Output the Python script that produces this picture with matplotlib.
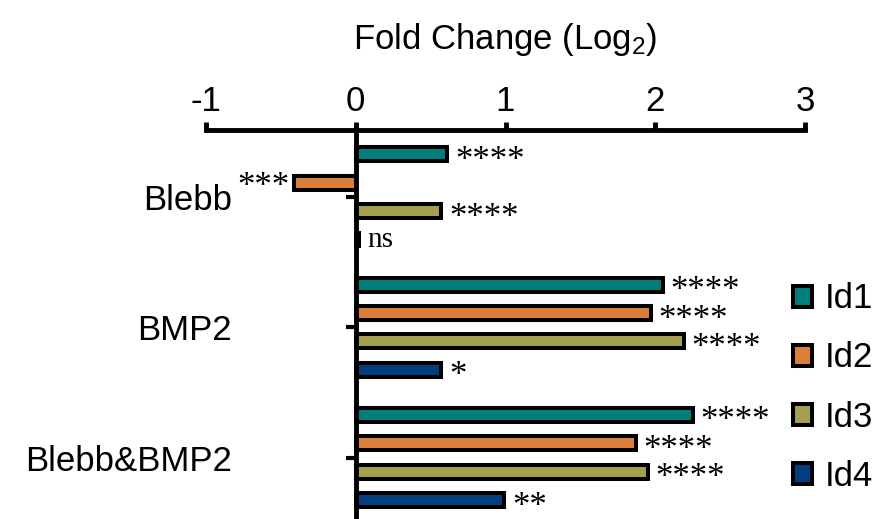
import matplotlib
matplotlib.use("Agg")
import matplotlib.pyplot as plt
from matplotlib.patches import Patch
import numpy as np

plt.rcParams['font.family'] = ['Liberation Sans', 'DejaVu Sans']
plt.rcParams['mathtext.fontset'] = 'custom'
plt.rcParams['mathtext.rm'] = 'Liberation Sans'
plt.rcParams['mathtext.it'] = 'Liberation Sans:italic'

# ---- data ----
groups = ["Blebb", "BMP2", "Blebb&BMP2"]
series = ["Id1", "Id2", "Id3", "Id4"]
id1 = [0.61, 2.05, 2.25]
id2 = [-0.41, 1.97, 1.87]
id3 = [0.57, 2.19, 1.95]
id4 = [0.02, 0.57, 0.99]
sig_id1 = ["****", "****", "****"]
sig_id2 = ["***", "****", "****"]
sig_id3 = ["****", "****", "****"]
sig_id4 = ["ns", "*", "**"]
xticks = [-1, 0, 1, 2, 3]
colors = ["#007F7B", "#DC7F3D", "#A5A04E", "#003F7F"]

values = [id1, id2, id3, id4]
sigs = [sig_id1, sig_id2, sig_id3, sig_id4]

FS = 25
W, H = 882, 519
fig = plt.figure(figsize=(W / 100, H / 100), dpi=100)
ax = fig.add_axes([206 / W, 1 - 588 / H, 599 / W, (588 - 130) / H])

gpos = np.arange(len(groups))
step = 0.218
bar_h = 0.107
for j, (vals, col, sg) in enumerate(zip(values, colors, sigs)):
    ypos = gpos + (j - 1.5) * step
    ax.barh(ypos, vals, height=bar_h, color=col, edgecolor='black',
            linewidth=2.9, zorder=2)
    for y, v, s in zip(ypos, vals, sg):
        fam = 'Liberation Serif'
        if s == "ns":
            ax.annotate(s, (v, y), xytext=(9, 0), textcoords='offset pixels',
                        ha='left', va='center', fontsize=21, family=fam)
        elif v >= 0:
            ax.annotate(s, (v, y), xytext=(8, -7), textcoords='offset pixels',
                        ha='left', va='center', fontsize=FS, family=fam)
        else:
            ax.annotate(s, (v, y), xytext=(-5, -5), textcoords='offset pixels',
                        ha='right', va='center', fontsize=FS, family=fam)

ax.set_xlim(-1, 3)
ax.set_ylim(3.0, -0.513)

for s in ['right', 'bottom']:
    ax.spines[s].set_visible(False)
ax.spines['top'].set_linewidth(3.5)
ax.spines['left'].set_linewidth(3.5)
ax.spines['left'].set_position(('data', 0))

ax.xaxis.tick_top()
ax.xaxis.set_label_position('top')
ax.set_xticks(xticks)
ax.set_xticklabels([str(t) for t in xticks])
ax.tick_params(axis='x', direction='out', length=5.5, width=3.5,
               labelsize=FS, pad=3)
ax.set_xlabel("Fold Change (Log$_\\mathrm{2}$)", fontsize=FS, labelpad=26)

ax.set_yticks(gpos)
ax.set_yticklabels(groups)
ax.tick_params(axis='y', direction='out', length=7, width=3, labelsize=FS,
               pad=82)

handles = [Patch(facecolor=c, edgecolor='black', linewidth=2.9) for c in colors]
fig.legend(handles, series, loc='center left',
           bbox_to_anchor=(793 / W, 1 - 387.5 / H), frameon=False,
           fontsize=FS, handlelength=0.55, handleheight=0.55,
           handletextpad=0.37, labelspacing=0.75, borderpad=0, borderaxespad=0)

fig.savefig("out.png", dpi=100)
